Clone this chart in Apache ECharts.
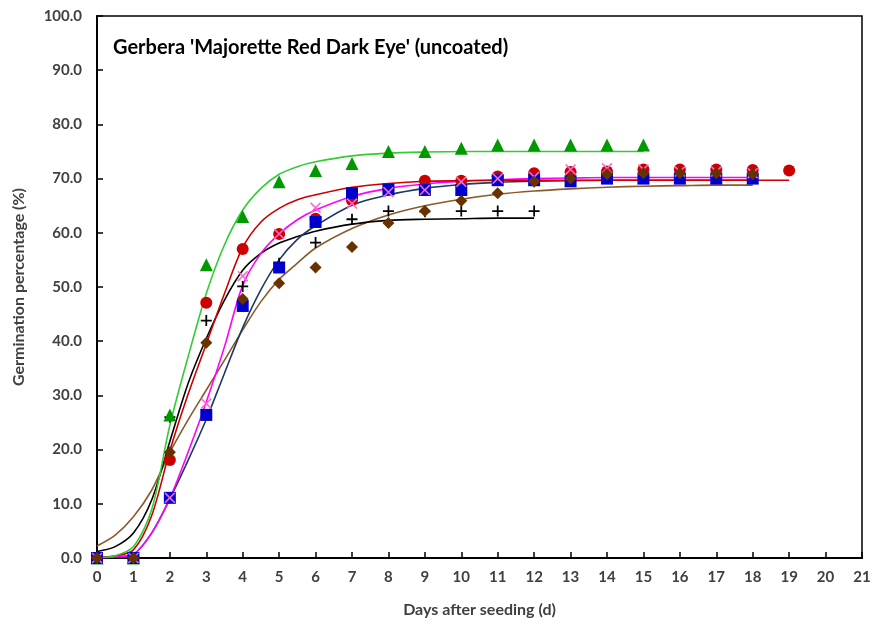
<!DOCTYPE html>
<html lang="en">
<head>
<meta charset="UTF-8">
<title>Gerbera germination</title>
<script src="https://cdn.jsdelivr.net/npm/echarts@6/dist/echarts.min.js"></script>
<style>
  html, body { margin: 0; padding: 0; background: #fff; }
  #main { width: 876px; height: 623px; }
</style>
</head>
<body>
<div id="main"></div>
<script>
// observed germination (%) per day (day 0, 1, 2, ...), one array per treatment
var obsRed   = [0, 0, 18.1, 47.1, 57.0, 59.8, 62.6, 66.0, 68.0, 69.6, 69.6, 70.4, 71.0, 71.2, 71.3, 71.7, 71.7, 71.7, 71.6, 71.5];
var obsBlue  = [0, 0, 11.1, 26.4, 46.5, 53.6, 62.0, 67.3, 68.0, 67.9, 67.9, 69.7, 69.7, 69.5, 70.0, 70.0, 70.0, 70.0, 70.0];
var obsPink  = [0, 0, 11.1, 28.5, 52.0, 59.8, 64.6, 65.4, 67.5, 67.9, 69.4, 70.0, 70.3, 71.7, 71.9, 71.7, 71.3, 71.3, 71.0];
var obsBlack = [0, 0, 26.0, 43.8, 50.1, 54.4, 58.2, 62.5, 64.0, 63.9, 64.0, 64.0, 64.0];
var obsGreen = [0, 0, 26.4, 54.1, 63.0, 69.4, 71.5, 72.8, 75.0, 75.0, 75.6, 76.2, 76.2, 76.2, 76.2, 76.2];
var obsBrown = [0, 0, 19.5, 39.7, 47.8, 50.7, 53.6, 57.4, 61.8, 64.0, 65.9, 67.3, 69.4, 70.0, 70.8, 71.0, 71.0, 71.0, 70.8];

// fitted curves at these days
var fitDays  = [0, 0.5, 1, 1.5, 2, 2.5, 3, 3.5, 4, 4.5, 5, 5.5, 6, 7, 8, 9, 10, 11, 12, 13, 14, 15, 16, 17, 18, 19];
var fitRed   = [0.1, 0.4, 1.5, 7.8, 19.8, 30.2, 39.5, 48.8, 57.3, 62.0, 64.5, 66.1, 67.0, 68.4, 69.1, 69.5, 69.6, 69.7, 69.7, 69.7, 69.7, 69.7, 69.7, 69.7, 69.7, 69.7];
var fitBlue  = [0, 0.2, 0.7, 4.6, 10.9, 18.0, 25.6, 34.1, 42.5, 49.5, 55.0, 58.8, 61.3, 65.1, 67.0, 68.2, 68.9, 69.3, 69.5, 69.6, 69.7, 69.7, 69.7, 69.7, 69.7];
var fitPink  = [0, 0.2, 0.7, 4.6, 11.0, 19.5, 28.8, 39.0, 50.3, 56.2, 59.8, 62.4, 64.2, 66.7, 68.2, 69.0, 69.5, 69.8, 70.0, 70.1, 70.2, 70.2, 70.2, 70.2, 70.2];
var fitBlack = [1.2, 2.1, 4.6, 10.7, 21.5, 32.2, 40.5, 47.6, 53.1, 56.2, 58.1, 59.3, 60.3, 61.6, 62.3, 62.5, 62.6, 62.7, 62.7];
var fitGreen = [0.1, 0.4, 2.1, 8.9, 24.5, 37.1, 48.8, 57.8, 64.2, 68.2, 70.8, 72.2, 73.1, 74.2, 74.7, 74.9, 75.0, 75.0, 75.0, 75.0, 75.0, 75.0];
var fitBrown = [2.2, 4.2, 7.6, 12.5, 19.5, 25.5, 31.0, 36.5, 42.1, 47.3, 51.4, 54.4, 57.2, 60.8, 63.3, 65.0, 66.2, 67.1, 67.7, 68.1, 68.4, 68.6, 68.7, 68.8, 68.8];

var FONT = 'Lato';
var CROSS = 'path://M1,0L5,4L9,0L10,1L6,5L10,9L9,10L5,6L1,10L0,9L4,5L0,1Z';
var PLUS = 'path://M4.2,0H5.8V4.2H10V5.8H5.8V10H4.2V5.8H0V4.2H4.2Z';

function byDay(arr) {
    var out = [];
    for (var i = 0; i < arr.length; i++) out.push([i, arr[i]]);
    return out;
}
function fitLine(arr, color) {
    var pts = [];
    for (var i = 0; i < arr.length; i++) pts.push([fitDays[i], arr[i]]);
    return {
        type: 'line', data: pts, smooth: 0.3,
        showSymbol: false, symbol: 'none', silent: true,
        lineStyle: { color: color, width: 1.6 }, z: 2
    };
}
function dots(arr, symbol, size, color, z) {
    return {
        type: 'scatter', data: byDay(arr), symbol: symbol, symbolSize: size,
        itemStyle: { color: color, opacity: 1 }, z: z
    };
}

var myChart = echarts.init(document.getElementById('main'));
var option = {
    animation: false,
    backgroundColor: '#fff',
    title: {
        text: "Gerbera 'Majorette Red Dark Eye' (uncoated)",
        left: 108, top: 33,
        textStyle: { fontFamily: FONT, fontSize: 20, fontWeight: 'bold', color: '#000' }
    },
    grid: {
        left: 97, right: 14, top: 16, bottom: 65,
        show: true, borderColor: '#000', borderWidth: 1.5
    },
    xAxis: {
        type: 'value', min: 0, max: 21, interval: 1,
        name: 'Days after seeding (d)', nameLocation: 'middle', nameGap: 44,
        nameTextStyle: { fontFamily: FONT, fontSize: 16, fontWeight: 'bold', color: '#404040' },
        axisLine: { onZero: false, lineStyle: { color: '#000', width: 2 } },
        axisTick: { inside: true, length: 6, lineStyle: { color: '#000', width: 1.5 } },
        axisLabel: { margin: 12, fontFamily: FONT, fontSize: 15, fontWeight: 'bold', color: '#404040' },
        splitLine: { show: false }
    },
    yAxis: {
        type: 'value', min: 0, max: 100, interval: 10,
        name: 'Germination percentage (%)', nameLocation: 'middle', nameGap: 70,
        nameTextStyle: { fontFamily: FONT, fontSize: 16, fontWeight: 'bold', color: '#404040' },
        axisLine: { onZero: false, lineStyle: { color: '#000', width: 2 } },
        axisTick: { inside: true, length: 6, lineStyle: { color: '#000', width: 1.5 } },
        axisLabel: {
            margin: 15, fontFamily: FONT, fontSize: 15, fontWeight: 'bold', color: '#404040',
            formatter: function (v) { return v.toFixed(1); }
        },
        splitLine: { show: false }
    },
    series: [
        fitLine(fitBrown, '#8b5a2b'),
        fitLine(fitBlack, '#000000'),
        fitLine(fitBlue, '#1f3864'),
        fitLine(fitPink, '#ff00ff'),
        fitLine(fitRed, '#cc0000'),
        fitLine(fitGreen, '#33cc33'),
        dots(obsBlack, PLUS, 11, '#000000', 3),
        dots(obsGreen, 'triangle', 13, '#009900', 4),
        dots(obsRed, 'circle', 12, '#cc0000', 5),
        dots(obsBlue, 'rect', 12, '#0000cc', 6),
        dots(obsPink, CROSS, 11, '#ff66cc', 7),
        dots(obsBrown, 'diamond', 12, '#663300', 8)
    ]
};
myChart.setOption(option);
</script>
</body>
</html>
